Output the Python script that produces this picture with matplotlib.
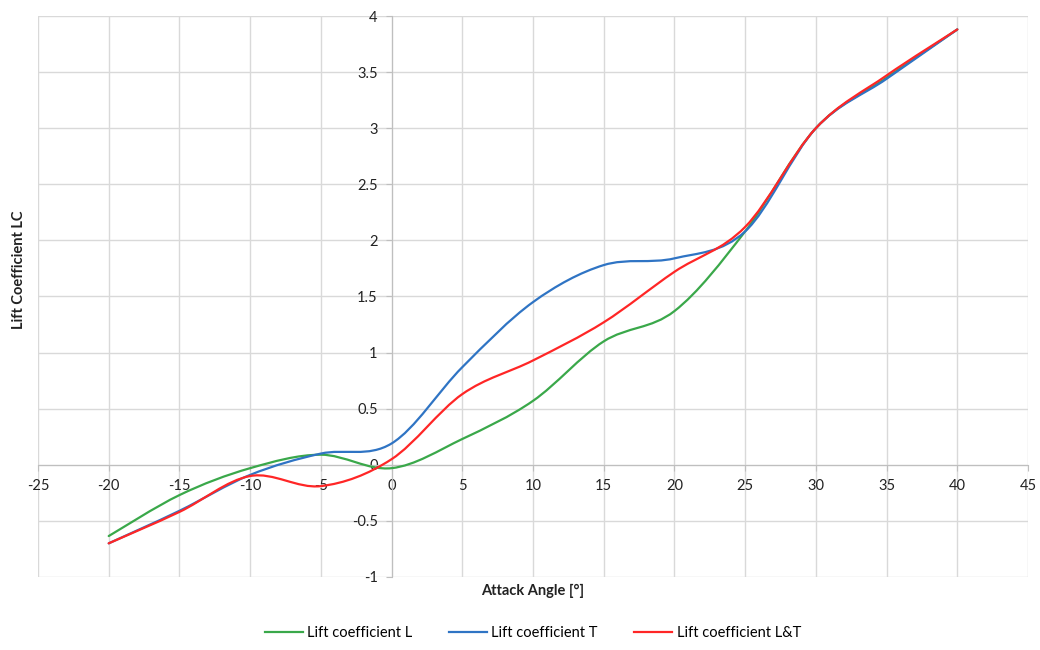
import matplotlib
matplotlib.use("Agg")
import matplotlib.pyplot as plt
import numpy as np
from matplotlib.path import Path
from matplotlib.patches import PathPatch
from matplotlib.lines import Line2D

# ---- data ----
angles = [-20, -15, -10, -5, 0, 5, 10, 15, 20, 25, 30, 35, 40]
lift_L = [-0.635, -0.27, -0.03, 0.09, -0.03, 0.23, 0.57, 1.10, 1.37, 2.08, 3.00, 3.45, 3.88]
lift_T = [-0.70, -0.41, -0.09, 0.10, 0.19, 0.87, 1.45, 1.78, 1.84, 2.08, 3.00, 3.44, 3.88]
lift_LT = [-0.70, -0.42, -0.10, -0.19, 0.05, 0.63, 0.93, 1.27, 1.72, 2.12, 3.00, 3.47, 3.88]

series_labels = ["Lift coefficient L", "Lift coefficient T", "Lift coefficient L&T"]
series_colors = ["#3aa84a", "#2f74c4", "#ff2626"]

x_ticks = list(range(-25, 50, 5))
y_ticks = [-1, -0.5, 0, 0.5, 1, 1.5, 2, 2.5, 3, 3.5, 4]
y_tick_labels = ["-1", "-0.5", "0", "0.5", "1", "1.5", "2", "2.5", "3", "3.5", "4"]

plt.rcParams['font.family'] = ['Lato', 'DejaVu Sans']

fig = plt.figure(figsize=(10.4, 6.5), dpi=100)
ax = fig.add_axes([38/1040, 1-577/650, (1028-38)/1040, (577-16)/650])
ax.set_xlim(-25, 45)
ax.set_ylim(-1, 4)


def smooth_path(xs, ys):
    P = np.column_stack([xs, ys]).astype(float)
    n = len(P)
    verts = [P[0]]
    codes = [Path.MOVETO]
    for i in range(n - 1):
        p_prev = P[i - 1] if i > 0 else P[i]
        p_next2 = P[i + 2] if i + 2 < n else P[i + 1]
        c1 = P[i] + (P[i + 1] - p_prev) / 6.0
        c2 = P[i + 1] - (p_next2 - P[i]) / 6.0
        verts += [c1, c2, P[i + 1]]
        codes += [Path.CURVE4] * 3
    return Path(verts, codes)


handles = []
for ys, lab, col in zip([lift_L, lift_T, lift_LT], series_labels, series_colors):
    patch = PathPatch(smooth_path(angles, ys), fill=False, edgecolor=col,
                      linewidth=1.6, zorder=5, capstyle='round', joinstyle='round')
    ax.add_patch(patch)
    handles.append(Line2D([], [], color=col, linewidth=1.6, label=lab))

# grid
grid_col = "#d9d9d9"
for xv in x_ticks:
    ax.axvline(xv, color=grid_col, linewidth=1.0, zorder=1)
for yv in y_ticks:
    ax.axhline(yv, color=grid_col, linewidth=1.0, zorder=1)

# spines through origin
for s in ['top', 'right']:
    ax.spines[s].set_visible(False)
ax.spines['left'].set_position(('data', 0))
ax.spines['bottom'].set_position(('data', 0))
ax.spines['left'].set_color("#bfbfbf")
ax.spines['bottom'].set_color("#bfbfbf")
ax.spines['left'].set_zorder(2)
ax.spines['bottom'].set_zorder(2)

ax.set_xticks(x_ticks)
ax.set_xticklabels([str(v) for v in x_ticks])
ax.set_yticks(y_ticks)
ax.set_yticklabels(y_tick_labels)
ax.tick_params(axis='both', direction='out', length=4, color="#bfbfbf",
               labelsize=10.5, labelcolor="#222222", pad=6)

ax.set_xlabel("Attack Angle [°]", fontsize=10.5, fontweight='bold', color="#222222")
ax.set_ylabel("Lift Coefficient LC", fontsize=10.5, fontweight='bold', color="#222222")
ax.xaxis.set_label_coords(0.5, -0.012)
ax.yaxis.set_label_coords(-0.012, 0.547)

fig.legend(handles=handles, loc='center', bbox_to_anchor=(533/1040, 1-633/650),
           ncol=3, frameon=False, fontsize=10.5, handlelength=2.6, handletextpad=0.3,
           columnspacing=2.5)

fig.savefig("out.png", dpi=100)
